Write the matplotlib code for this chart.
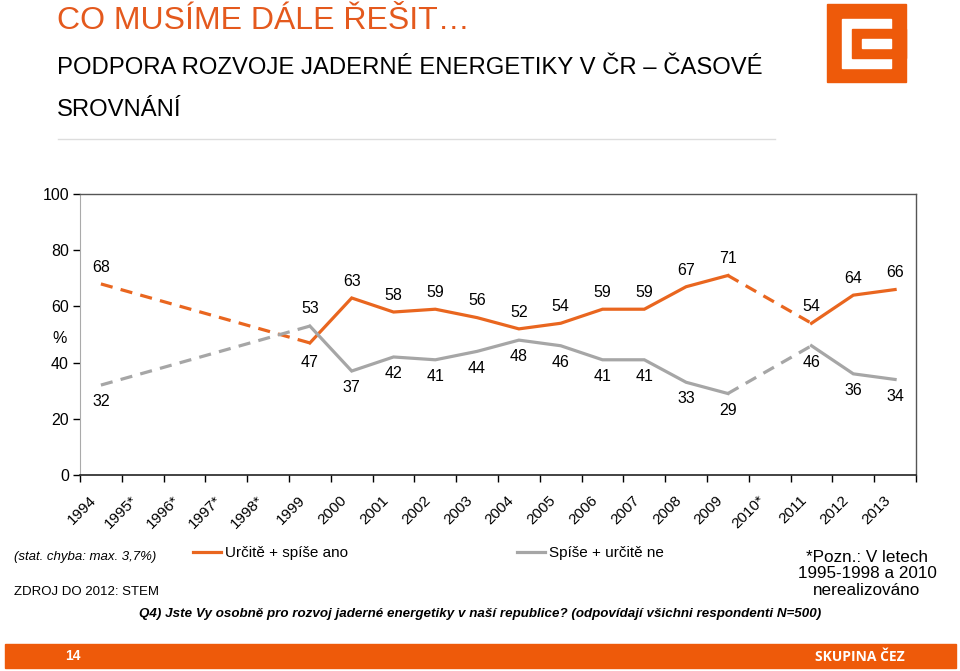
import numpy as np
from matplotlib import pyplot as plt
from matplotlib import transforms
from matplotlib.patches import Rectangle
from matplotlib.lines import Line2D

# Survey years (starred = survey not carried out)
years = ["1994", "1995*", "1996*", "1997*", "1998*", "1999", "2000", "2001", "2002",
         "2003", "2004", "2005", "2006", "2007", "2008", "2009", "2010*", "2011",
         "2012", "2013"]
# Urcite + spise ano
yes_vals = [68, None, None, None, None, 47, 63, 58, 59, 56, 52, 54, 59, 59, 67, 71,
            None, 54, 64, 66]
# Spise + urcite ne
no_vals = [32, None, None, None, None, 53, 37, 42, 41, 44, 48, 46, 41, 41, 33, 29,
           None, 46, 36, 34]

ORANGE = "#E9661F"
GRAY = "#A6A6A6"
BRAND = "#EE5A0A"
ARIAL = ["Liberation Sans", "DejaVu Sans"]

W, H = 960, 671


def fx(x):
    return x / W


def fy(y):
    return 1 - y / H


def draw_series(ax, vals, color):
    # split into runs of consecutive surveyed years, dashed over the gaps
    idx = [i for i, v in enumerate(vals) if v is not None]
    runs = [[idx[0]]]
    for i in idx[1:]:
        if i == runs[-1][-1] + 1:
            runs[-1].append(i)
        else:
            runs.append([i])
    handle = None
    for k, run in enumerate(runs):
        if len(run) > 1:
            ln, = ax.plot(run, [vals[i] for i in run], color=color, lw=2.3,
                          solid_joinstyle="miter", zorder=3)
            handle = ln
        if k > 0:
            a, b = runs[k - 1][-1], run[0]
            ax.plot([a, b], [vals[a], vals[b]], color=color, lw=2.3,
                    dashes=(3.8, 2.6), zorder=3)
    return handle


fig = plt.figure(figsize=(9.6, 6.71), dpi=100)
ax = fig.add_axes([fx(80), fy(475), fx(916) - fx(80), fy(194) - fy(475)])

h_yes = draw_series(ax, yes_vals, ORANGE)
h_no = draw_series(ax, no_vals, GRAY)

# data labels
for i, (a, b) in enumerate(zip(yes_vals, no_vals)):
    if a is None:
        continue
    flip = a < b
    ax.annotate(str(a), (i, a), xytext=(0, -14 if flip else 12), textcoords="offset points",
                ha="center", va="center", fontsize=11.5, family=ARIAL)
    ax.annotate(str(b), (i, b), xytext=(0, 13 if flip else -12), textcoords="offset points",
                ha="center", va="center", fontsize=11.5, family=ARIAL)

ax.set_xlim(-0.5, len(years) - 0.5)
ax.set_ylim(0, 100)
ax.set_yticks([0, 20, 40, 60, 80, 100])
ax.tick_params(axis="y", direction="out", length=5, width=1, labelsize=11.5, pad=3)
for t in ax.get_yticklabels():
    t.set_family(ARIAL)

ax.set_xticks(np.arange(len(years)))
ax.set_xticklabels(years, rotation=45, ha="right", va="top", rotation_mode="anchor",
                   fontsize=11, family=ARIAL)
ax.set_xticks(np.arange(len(years) + 1) - 0.5, minor=True)
ax.tick_params(axis="x", which="major", length=0, pad=13)
ax.tick_params(axis="x", which="minor", direction="out", length=5, width=1)
shift = transforms.ScaledTranslation(-12 / 100, 0, fig.dpi_scale_trans)
for t in ax.get_xticklabels():
    t.set_transform(t.get_transform() + shift)

for s in ["top", "right"]:
    ax.spines[s].set_color("#555555")
    ax.spines[s].set_linewidth(1.0)
ax.spines["left"].set_color("#AAAAAA")
ax.spines["bottom"].set_color("#222222")
ax.spines["bottom"].set_linewidth(1.2)

fig.text(fx(60), fy(339), "%", ha="center", va="center", fontsize=11.5, family=ARIAL)

# header
fig.text(fx(57), fy(21), "CO MUSÍME DÁLE ŘEŠIT…", color="#E4591D", fontsize=23,
         family=ARIAL, ha="left", va="center")
fig.text(fx(57), fy(68), "PODPORA ROZVOJE JADERNÉ ENERGETIKY V ČR – ČASOVÉ",
         fontsize=17.2, family=ARIAL, ha="left", va="center")
fig.text(fx(57), fy(110), "SROVNÁNÍ", fontsize=17.2, family=ARIAL, ha="left", va="center")
fig.add_artist(Line2D([fx(58), fx(775)], [fy(139), fy(139)], color="#DDDDDD", lw=1))

# logo
fig.patches.append(Rectangle((fx(827), fy(82)), fx(79), 78 / H, color=BRAND,
                             transform=fig.transFigure, figure=fig))
fig.patches.append(Rectangle((fx(842), fy(68)), fx(49), 49 / H, color="white",
                             transform=fig.transFigure, figure=fig))
fig.patches.append(Rectangle((fx(852), fy(58)), fx(54), 29 / H, color=BRAND,
                             transform=fig.transFigure, figure=fig))
fig.patches.append(Rectangle((fx(862), fy(48)), fx(29), 9 / H, color="white",
                             transform=fig.transFigure, figure=fig))

# legend
for handle, label, x in [(h_yes, "Určitě + spíše ano", 193), (h_no, "Spíše + určitě ne", 517)]:
    fig.legend([handle], [label], loc="center left", bbox_to_anchor=(fx(x), fy(553)),
               frameon=False, borderpad=0, borderaxespad=0, handlelength=1.8,
               handletextpad=0.3, prop={"family": ARIAL, "size": 11})

# footnotes
fig.text(fx(14), fy(557), "(stat. chyba: max. 3,7%)", fontsize=9.5, style="italic",
         family=ARIAL, ha="left", va="center")
fig.text(fx(14), fy(592), "ZDROJ DO 2012: STEM", fontsize=9.5, family=ARIAL,
         ha="left", va="center")
fig.text(fx(867), fy(574), "*Pozn.: V letech\n1995-1998 a 2010\nnerealizováno",
         fontsize=12.3, family=ARIAL, ha="center", va="center", linespacing=1.15)
fig.text(fx(480), fy(614), "Q4) Jste Vy osobně pro rozvoj jaderné energetiky v naší republice? "
         "(odpovídají všichni respondenti N=500)", fontsize=9.6, style="italic",
         weight="bold", family=ARIAL, ha="center", va="center")

# bottom bar
fig.patches.append(Rectangle((fx(5), fy(668)), fx(951), 24 / H, color=BRAND,
                             transform=fig.transFigure, figure=fig))
fig.text(fx(73), fy(656), "14", color="white", fontsize=10, weight="bold",
         family=ARIAL, ha="center", va="center")
fig.text(fx(905), fy(657), "SKUPINA ČEZ", color="white", fontsize=10, weight="bold",
         family=["Open Sans", "DejaVu Sans"], ha="right", va="center")

fig.savefig("out.png", dpi=100)
